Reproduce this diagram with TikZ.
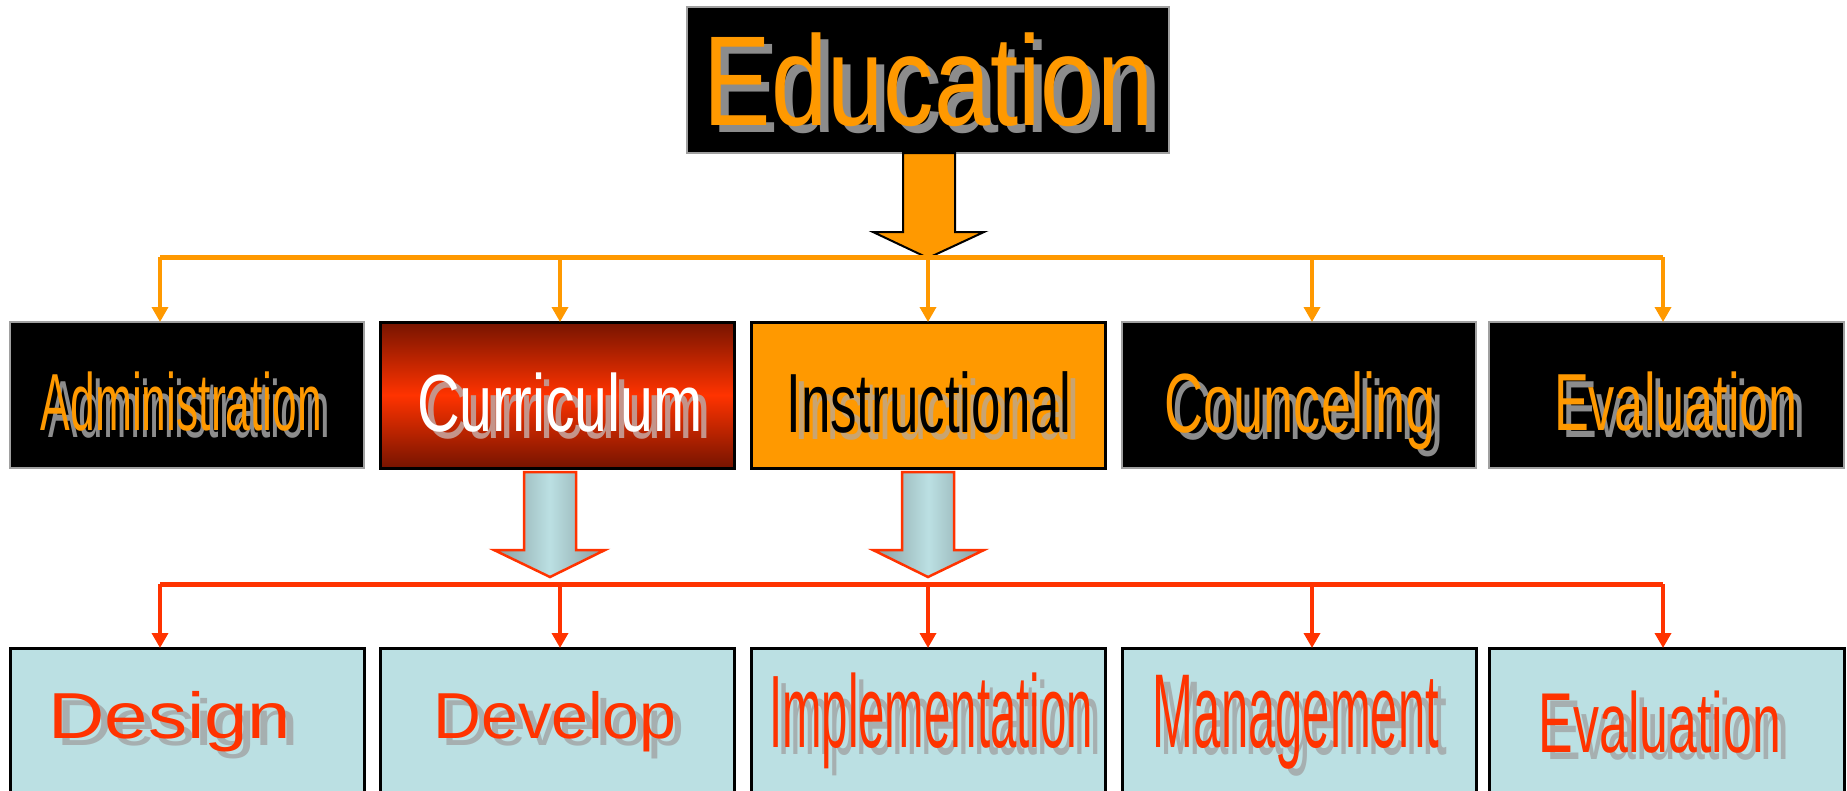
\documentclass[tikz,border=0pt]{standalone}
\usepackage{fontspec}
\setmainfont{Liberation Sans}
\usetikzlibrary{arrows.meta,calc}
\definecolor{eorange}{HTML}{FF9900}
\definecolor{ered}{HTML}{FF3300}
\definecolor{ecyan}{HTML}{BBE0E3}
\definecolor{shgray}{HTML}{8C8C8C}
\definecolor{shred}{HTML}{C4948A}
\definecolor{shtan}{HTML}{C8A472}
\definecolor{shcyan}{HTML}{A6AFB0}
\definecolor{darkred}{HTML}{761400}
\definecolor{arrowedge}{HTML}{869C9E}
\definecolor{edgegray}{HTML}{A0A0A0}
\newcommand{\shtxt}[5]{{\fontsize{#2}{#2}\selectfont\makebox[0pt][l]{\kern8pt\raisebox{-7pt}{\scalebox{#1}[1]{\color{#4}#5}}}\scalebox{#1}[1]{\color{#3}#5}}}
\begin{document}
\begin{tikzpicture}[x=1pt,y=-1pt,
  boxbase/.style={inner sep=0pt, outer sep=0pt, minimum width=354pt},
  blackbox/.style={boxbase, fill=black, draw=edgegray, line width=1.5pt, minimum height=146pt},
  currbox/.style={boxbase, draw=black, line width=3pt, minimum height=146pt, top color=darkred, bottom color=darkred, middle color=ered},
  instbox/.style={boxbase, draw=black, line width=3pt, minimum height=146pt, fill=eorange},
  cyanbox/.style={boxbase, draw=black, line width=3pt, minimum height=152pt, fill=ecyan},
  txt/.style={inner sep=0pt, anchor=base},
  obus/.style={draw=eorange, line width=5pt},
  rbus/.style={draw=ered, line width=5pt},
  odrop/.style={draw=eorange, line width=3.5pt, -{Triangle[width=16pt,length=15pt]}},
  rdrop/.style={draw=ered, line width=3.5pt, -{Triangle[width=16pt,length=15pt]}},
  oblock/.style={draw=black, line width=2pt, fill=eorange, line join=miter},
  cblock/.style={draw=ered, line width=2.5pt, line join=miter, left color=arrowedge, right color=arrowedge, middle color=ecyan}
]
\useasboundingbox (0,0) rectangle (1847,790);
\fill[white] (0,0) rectangle (1847,790);

% top node
\node[blackbox, minimum width=482pt] (edu) at (928,80) {};
\node[txt] (t-edu) at (928.5,125) {\shtxt{0.79}{128}{eorange}{shgray}{Education}};

% orange block arrow
\draw[oblock] ($(edu.south)+(-25,0)$) -- ++(0,79) -- ++(-30,0) -- ++(55,26) -- ++(56,-26) -- ++(-29,0) -- ++(0,-79) -- cycle;

% first row
\node[blackbox] (adm) at (187,395) {};
\node[currbox]  (cur) at (557,395) {};
\node[instbox]  (ins) at (928,395) {};
\node[blackbox] (cou) at (1299,395) {};
\node[blackbox, minimum width=355pt] (ev1) at (1666.5,395) {};

\node[txt] (t-adm) at (181.5,430) {\shtxt{0.548}{81}{eorange}{shgray}{Administration}};
\node[txt] (t-cur) at (560,431) {\shtxt{0.73}{81}{white}{shred}{Curriculum}};
\node[txt] (t-ins) at (929,432) {\shtxt{0.63}{84}{black}{shtan}{Instructional}};
\node[txt] (t-cou) at (1300,432) {\shtxt{0.645}{84}{eorange}{shgray}{Counceling}};
\node[txt] (t-ev1) at (1676,430) {\shtxt{0.645}{81}{eorange}{shgray}{Evaluation}};

% orange bus
\coordinate (od1) at (160,257);
\coordinate (od2) at (560,257);
\coordinate (od3) at (928,257);
\coordinate (od4) at (1312,257);
\coordinate (od5) at (1663,257);
\draw[obus] (od1) -- (od5);
\draw[odrop] (od1) -- (od1 |- adm.north);
\draw[odrop] (od2) -- (od2 |- cur.north);
\draw[odrop] (od3) -- (od3 |- ins.north);
\draw[odrop] (od4) -- (od4 |- cou.north);
\draw[odrop] (od5) -- (od5 |- ev1.north);

% cyan block arrows
\path[cblock] ($(cur.south)+(-33,4)$) -- ++(0,78) -- ++(-30,0) -- ++(56,27) -- ++(55,-27) -- ++(-29,0) -- ++(0,-78) -- cycle;
\path[cblock] ($(ins.south)+(-26,4)$) -- ++(0,78) -- ++(-29,0) -- ++(55,27) -- ++(56,-27) -- ++(-30,0) -- ++(0,-78) -- cycle;

% second row
\node[cyanbox] (des) at (187,724) {};
\node[cyanbox] (dev) at (557,724) {};
\node[cyanbox] (imp) at (928,724) {};
\node[cyanbox] (man) at (1299,724) {};
\node[cyanbox, minimum width=355pt] (ev2) at (1666.5,724) {};

\node[txt] (t-des) at (170,738) {\shtxt{1.2}{65}{ered}{shcyan}{Design}};
\node[txt] (t-dev) at (555,738) {\shtxt{1.02}{65}{ered}{shcyan}{Develop}};
\node[txt] (t-imp) at (931,747) {\shtxt{0.46}{103}{ered}{shcyan}{Implementation}};
\node[txt] (t-man) at (1296,747) {\shtxt{0.467}{105}{ered}{shcyan}{Management}};
\node[txt] (t-ev2) at (1660,752) {\shtxt{0.61}{85}{ered}{shcyan}{Evaluation}};

% red bus
\coordinate (rd1) at (160,584);
\coordinate (rd2) at (560,584);
\coordinate (rd3) at (928,584);
\coordinate (rd4) at (1312,584);
\coordinate (rd5) at (1663,584);
\draw[rbus] (rd1) -- (rd5);
\draw[rdrop] (rd1) -- (rd1 |- des.north);
\draw[rdrop] (rd2) -- (rd2 |- dev.north);
\draw[rdrop] (rd3) -- (rd3 |- imp.north);
\draw[rdrop] (rd4) -- (rd4 |- man.north);
\draw[rdrop] (rd5) -- (rd5 |- ev2.north);
\end{tikzpicture}
\end{document}
